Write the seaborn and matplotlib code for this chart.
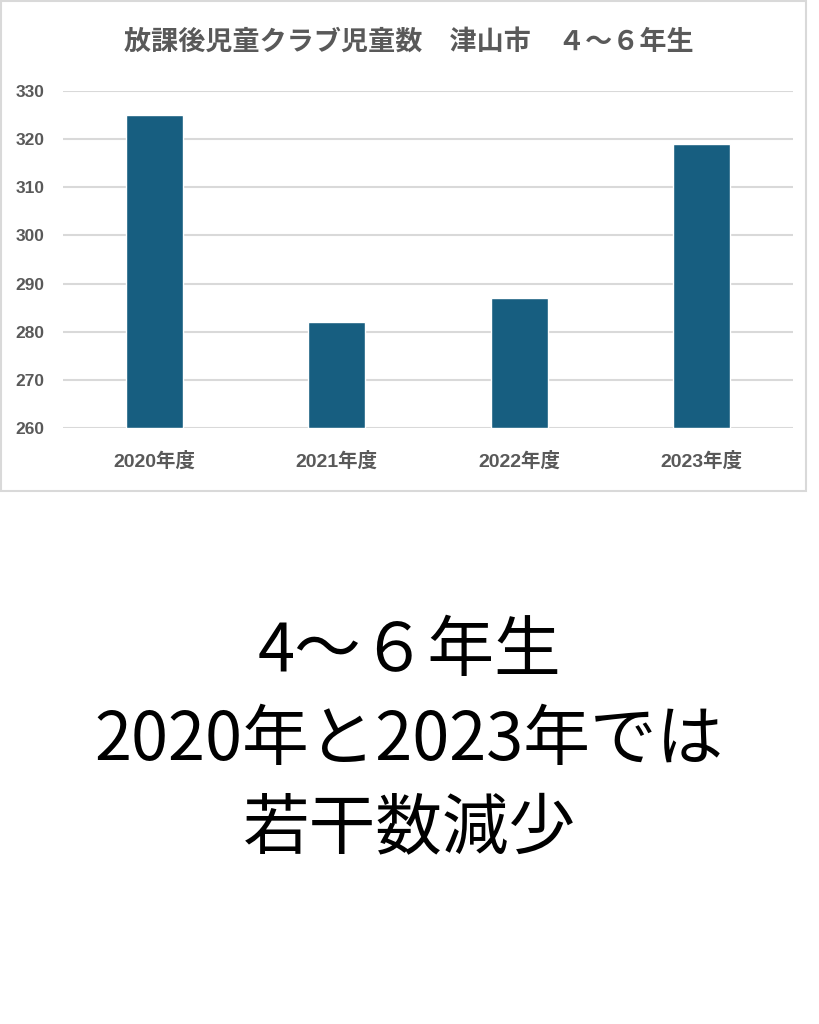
import matplotlib
matplotlib.use("Agg")
import matplotlib.pyplot as plt
import seaborn as sns
import pandas as pd
from matplotlib.patches import Rectangle

years = ["2020年度", "2021年度", "2022年度", "2023年度"]
counts = [325, 282, 287, 319]
y_ticks = [260, 270, 280, 290, 300, 310, 320, 330]
chart_title = "放課後児童クラブ児童数　津山市　４～６年生"
caption_lines = ["4～６年生", "2020年と2023年では", "若干数減少"]

sns.set_theme(style="white")
plt.rcParams["font.family"] = ["Noto Sans CJK JP", "DejaVu Sans"]
tick_font = ["Liberation Sans", "Noto Sans CJK JP"]

df = pd.DataFrame({"year": years, "count": counts})

fig = plt.figure(figsize=(8.19, 10.24), dpi=100)
fig.patch.set_facecolor("white")

# chart frame
fig.add_artist(Rectangle((1 / 819, 1 - 491 / 1024), 805 / 819, 490 / 1024,
                         transform=fig.transFigure, fill=False,
                         edgecolor="#d9d9d9", linewidth=1.5))

ax = fig.add_axes([63 / 819, 1 - 428 / 1024, 730 / 819, 337 / 1024])
sns.barplot(data=df, x="year", y="count", color="#175e80", width=0.31,
            saturation=1, ax=ax, zorder=3)
# bars start at the axis floor
for p in ax.patches:
    p.set_y(y_ticks[0])
    p.set_height(p.get_height() - y_ticks[0])

ax.set_ylim(y_ticks[0], y_ticks[-1])
ax.set_yticks(y_ticks)
ax.set_xlim(-0.5, len(years) - 0.5)
ax.yaxis.grid(True, color="#d9d9d9", linewidth=1.5, zorder=0)
ax.set_axisbelow(True)
for s in ax.spines.values():
    s.set_visible(False)
ax.set_xlabel("")
ax.set_ylabel("")
ax.tick_params(axis="both", length=0, colors="#595959")
ax.tick_params(axis="y", pad=34)
ax.tick_params(axis="x", pad=17)
for lab in ax.get_yticklabels():
    lab.set_fontsize(12.5)
    lab.set_horizontalalignment("left")
for lab in ax.get_xticklabels():
    lab.set_fontsize(14)
for lab in ax.get_yticklabels() + ax.get_xticklabels():
    lab.set_family(tick_font)
    lab.set_fontweight("bold")
    lab.set_color("#595959")

fig.text(409 / 819, 1 - 42 / 1024, chart_title, ha="center", va="center",
         fontsize=19.5, fontweight="bold", color="#595959")

for i, line in enumerate(caption_lines):
    fig.text(409 / 819, 1 - (652 + 89 * i) / 1024, line, ha="center",
             va="center", fontsize=48, color="black")

fig.savefig("out.png", dpi=100, facecolor="white")
